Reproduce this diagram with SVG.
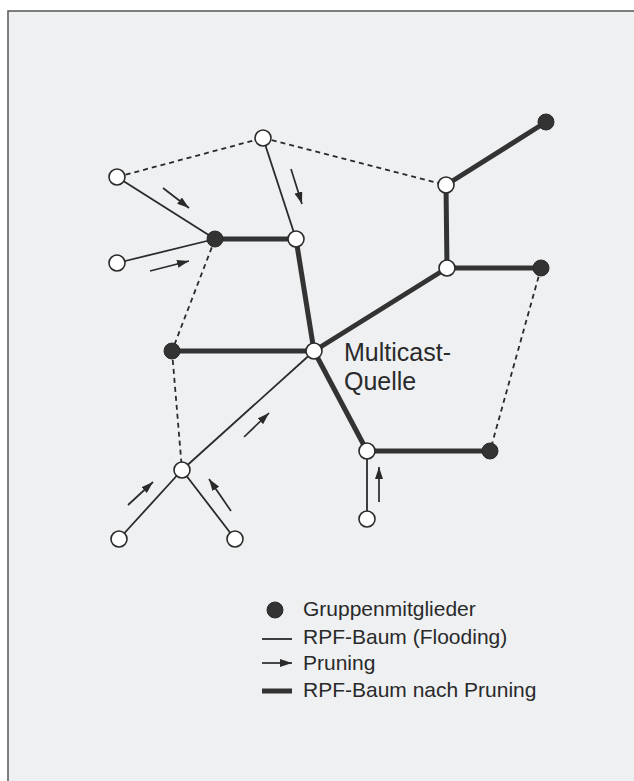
<svg xmlns="http://www.w3.org/2000/svg" width="634" height="781" viewBox="0 0 634 781">
<style>
.thin{stroke:#2a2a2a;stroke-width:1.8;fill:none}
.thick{stroke:#333;stroke-width:5;fill:none}
.dash{stroke:#2a2a2a;stroke-width:1.8;stroke-dasharray:5 4;fill:none}
.arr{stroke:#2a2a2a;stroke-width:1.7;fill:none;marker-end:url(#ah)}
.open{fill:#fff;stroke:#2a2a2a;stroke-width:1.6}
.full{fill:#333;stroke:#2a2a2a;stroke-width:1}
text{font-family:"Liberation Sans",Arial,sans-serif;fill:#2a2a2a}
</style>
<defs>
<marker id="ah" viewBox="0 0 12 8" refX="12" refY="4" markerWidth="12" markerHeight="8" markerUnits="userSpaceOnUse" orient="auto">
<path d="M0,0 L12,4 L0,8 z" fill="#2a2a2a"/>
</marker>
</defs>
<rect x="0" y="0" width="634" height="781" fill="#fff"/>
<rect x="8" y="11" width="640" height="790" fill="#eef0f2" stroke="#555" stroke-width="1.5"/>
<g id="connectors">
<line class="dash" x1="117" y1="177" x2="263" y2="138"/>
<line class="dash" x1="263" y1="138" x2="446" y2="185"/>
<line class="dash" x1="215" y1="239" x2="172" y2="351"/>
<line class="dash" x1="172" y1="351" x2="182" y2="470"/>
<line class="dash" x1="541" y1="268" x2="490" y2="451"/>
<line class="thin" x1="117" y1="177" x2="215" y2="239"/>
<line class="thin" x1="117" y1="263" x2="215" y2="239"/>
<line class="thin" x1="263" y1="138" x2="296" y2="239"/>
<line class="thin" x1="182" y1="470" x2="314" y2="351"/>
<line class="thin" x1="182" y1="470" x2="119" y2="539"/>
<line class="thin" x1="182" y1="470" x2="235" y2="539"/>
<line class="thin" x1="367" y1="451" x2="367" y2="519"/>
<line class="thick" x1="215" y1="239" x2="296" y2="239"/>
<line class="thick" x1="296" y1="239" x2="314" y2="351"/>
<line class="thick" x1="314" y1="351" x2="447" y2="268"/>
<line class="thick" x1="447" y1="268" x2="446" y2="185"/>
<line class="thick" x1="446" y1="185" x2="546" y2="122"/>
<line class="thick" x1="447" y1="268" x2="541" y2="268"/>
<line class="thick" x1="172" y1="351" x2="314" y2="351"/>
<line class="thick" x1="314" y1="351" x2="367" y2="451"/>
<line class="thick" x1="367" y1="451" x2="490" y2="451"/>
<line class="arr" x1="163" y1="188" x2="189" y2="208"/>
<line class="arr" x1="150" y1="271" x2="189" y2="261"/>
<line class="arr" x1="291" y1="169" x2="302" y2="204"/>
<line class="arr" x1="244" y1="437" x2="269" y2="413"/>
<line class="arr" x1="128" y1="505" x2="153" y2="482"/>
<line class="arr" x1="231" y1="511" x2="209" y2="479"/>
<line class="arr" x1="379" y1="502" x2="379" y2="467"/>
</g>
<g id="nA"><circle class="open" cx="117" cy="177" r="8"/></g>
<g id="nB"><circle class="open" cx="263" cy="138" r="8"/></g>
<g id="nC"><circle class="open" cx="117" cy="263" r="8"/></g>
<g id="nD"><circle class="full" cx="215" cy="239" r="8"/></g>
<g id="nE"><circle class="open" cx="296" cy="239" r="8"/></g>
<g id="nF"><circle class="open" cx="446" cy="185" r="8"/></g>
<g id="nG"><circle class="full" cx="546" cy="122" r="8"/></g>
<g id="nH"><circle class="open" cx="447" cy="268" r="8"/></g>
<g id="nI"><circle class="full" cx="541" cy="268" r="8"/></g>
<g id="nJ"><circle class="full" cx="172" cy="351" r="8"/></g>
<g id="nS"><circle class="open" cx="314" cy="351" r="8"/>
<text x="344" y="361" font-size="25">Multicast-</text>
<text x="344" y="390" font-size="25">Quelle</text></g>
<g id="nK"><circle class="open" cx="182" cy="470" r="8"/></g>
<g id="nL"><circle class="open" cx="119" cy="539" r="8"/></g>
<g id="nM"><circle class="open" cx="235" cy="539" r="8"/></g>
<g id="nN"><circle class="open" cx="367" cy="451" r="8"/></g>
<g id="nO"><circle class="full" cx="490" cy="451" r="8"/></g>
<g id="nP"><circle class="open" cx="367" cy="519" r="8"/></g>
<g id="legend">
<circle class="full" cx="275" cy="610" r="8"/>
<text x="303" y="616" font-size="21">Gruppenmitglieder</text>
<line class="thin" x1="262" y1="639" x2="292" y2="639"/>
<text x="303" y="644" font-size="21">RPF-Baum (Flooding)</text>
<line class="arr" x1="262" y1="663" x2="292" y2="663"/>
<text x="303" y="670" font-size="21">Pruning</text>
<line class="thick" x1="262" y1="691" x2="292" y2="691"/>
<text x="303" y="697" font-size="21">RPF-Baum nach Pruning</text>
</g>
</svg>
